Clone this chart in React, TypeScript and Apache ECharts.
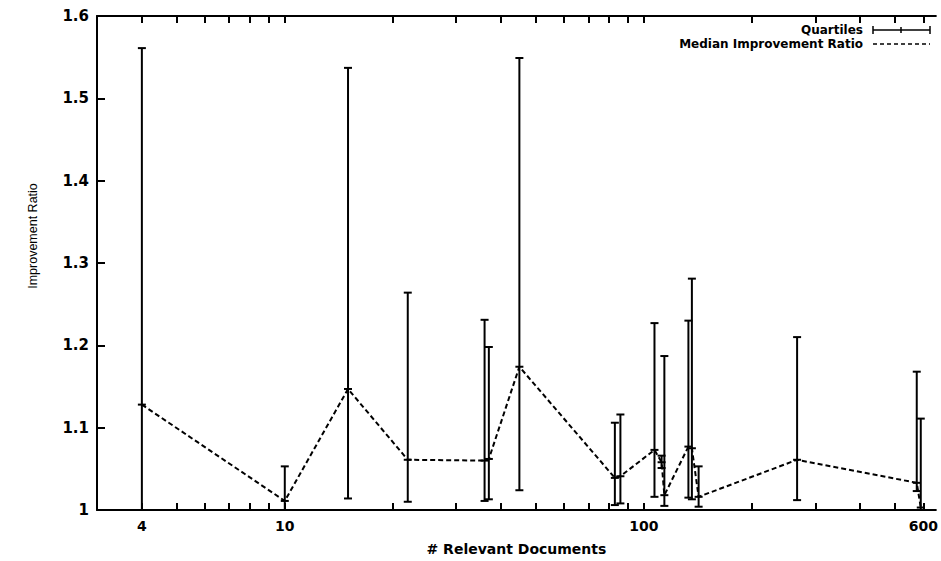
import React, { useEffect, useRef } from "react";
import * as echarts from "echarts";

// # relevant documents (x), quartiles and median improvement ratio (y)
const docs = [4, 10, 15, 22, 36, 37, 45, 83, 86, 107, 112, 114, 133, 136, 142, 267, 575, 590];
const median = [1.128, 1.011, 1.147, 1.061, 1.06, 1.062, 1.174, 1.039, 1.041, 1.073, 1.058, 1.018, 1.077, 1.075, 1.016, 1.061, 1.033, 1.003];
const q1 = [1.0, 1.0, 1.014, 1.01, 1.011, 1.013, 1.024, 1.006, 1.008, 1.016, 1.051, 1.005, 1.015, 1.013, 1.004, 1.012, 1.023, 1.0];
const q3 = [1.561, 1.053, 1.537, 1.264, 1.231, 1.198, 1.549, 1.106, 1.116, 1.227, 1.066, 1.187, 1.23, 1.281, 1.053, 1.21, 1.168, 1.111];

const xTickValues = [4, 5, 6, 7, 8, 9, 10, 20, 30, 40, 50, 60, 70, 80, 90, 100, 200, 300, 400, 500, 600];
const xLabelValues = [4, 10, 100, 600];
const xMin = 3;
const xMax = 650;

const FONT = "DejaVu Sans";

export default function App() {
  const ref = useRef<HTMLDivElement>(null);
  useEffect(() => {
    if (!ref.current) return;
    const chart = echarts.init(ref.current, null, { renderer: "svg" });
    const lg = (v: number) => Math.log10(v);
    const black = "#000";
    const tickCustom = xTickValues.map(lg);
    const labelCustom = xLabelValues.map(lg);
    const errData = docs.map((d, i) => [lg(d), q1[i], q3[i], median[i]]);
    const medData = docs.map((d, i) => [lg(d), median[i]]);
    const lineStyle = { stroke: black, lineWidth: 2 };

    chart.setOption({
      animation: false,
      backgroundColor: "#fff",
      grid: { left: 97, top: 16, width: 843, height: 496 },
      xAxis: [
        {
          type: "value",
          min: lg(xMin),
          max: lg(xMax),
          position: "bottom",
          name: "# Relevant Documents",
          nameLocation: "middle",
          nameGap: 32,
          nameTextStyle: { fontFamily: FONT, fontWeight: "bold", fontSize: 14, color: black },
          axisLine: { show: true, lineStyle: { color: black, width: 2 } },
          axisTick: { show: true, inside: true, length: 7, customValues: tickCustom, lineStyle: { color: black, width: 2 } },
          axisLabel: {
            show: true,
            customValues: labelCustom,
            margin: 9,
            fontFamily: FONT,
            fontWeight: "bold",
            fontSize: 14,
            color: black,
            formatter: (v: number) => String(Math.round(Math.pow(10, v))),
          },
          splitLine: { show: false },
        },
        {
          type: "value",
          min: lg(xMin),
          max: lg(xMax),
          position: "top",
          axisLine: { show: true, lineStyle: { color: black, width: 2 } },
          axisTick: { show: true, inside: true, length: 7, customValues: tickCustom, lineStyle: { color: black, width: 2 } },
          axisLabel: { show: false },
          splitLine: { show: false },
        },
      ],
      yAxis: {
        type: "value",
        min: 1,
        max: 1.6,
        interval: 0.1,
        axisLine: { show: true, lineStyle: { color: black, width: 2 } },
        axisTick: { show: true, inside: true, length: 8, lineStyle: { color: black, width: 2 } },
        axisLabel: { margin: 8, fontFamily: FONT, fontWeight: "bold", fontSize: 15, color: black },
        splitLine: { show: false },
      },
      graphic: [
        {
          type: "text",
          x: 33,
          y: 236,
          rotation: Math.PI / 2,
          style: {
            text: "Improvement Ratio",
            font: "12.5px 'Liberation Sans'",
            fill: black,
            align: "center",
            verticalAlign: "middle",
          },
        },
        {
          type: "text",
          x: 863,
          y: 30,
          style: { text: "Quartiles", font: `bold 12px '${FONT}'`, fill: black, align: "right", verticalAlign: "middle" },
        },
        { type: "line", shape: { x1: 873, y1: 30, x2: 930, y2: 30 }, style: { stroke: black, lineWidth: 1.5 } },
        { type: "line", shape: { x1: 873, y1: 26, x2: 873, y2: 34 }, style: { stroke: black, lineWidth: 1.5 } },
        { type: "line", shape: { x1: 930, y1: 26, x2: 930, y2: 34 }, style: { stroke: black, lineWidth: 1.5 } },
        { type: "line", shape: { x1: 901, y1: 27, x2: 901, y2: 33 }, style: { stroke: black, lineWidth: 1.5 } },
        {
          type: "text",
          x: 863,
          y: 44,
          style: { text: "Median Improvement Ratio", font: `bold 12px '${FONT}'`, fill: black, align: "right", verticalAlign: "middle" },
        },
        { type: "line", shape: { x1: 873, y1: 44, x2: 930, y2: 44 }, style: { stroke: black, lineWidth: 1.5, lineDash: [4, 3] } },
      ],
      series: [
        {
          type: "custom",
          name: "Quartiles",
          xAxisIndex: 0,
          yAxisIndex: 0,
          data: errData,
          encode: { x: 0, y: [1, 2, 3] },
          renderItem: (params: any, api: any) => {
            const x = api.value(0);
            const lo = api.coord([x, api.value(1)]);
            const hi = api.coord([x, api.value(2)]);
            const md = api.coord([x, api.value(3)]);
            const w = 4;
            return {
              type: "group",
              children: [
                { type: "line", shape: { x1: lo[0], y1: lo[1], x2: hi[0], y2: hi[1] }, style: lineStyle },
                { type: "line", shape: { x1: lo[0] - w, y1: lo[1], x2: lo[0] + w, y2: lo[1] }, style: lineStyle },
                { type: "line", shape: { x1: hi[0] - w, y1: hi[1], x2: hi[0] + w, y2: hi[1] }, style: lineStyle },
                { type: "line", shape: { x1: md[0] - w, y1: md[1], x2: md[0] + w, y2: md[1] }, style: lineStyle },
              ],
            };
          },
          z: 2,
        },
        {
          type: "line",
          name: "Median Improvement Ratio",
          xAxisIndex: 0,
          yAxisIndex: 0,
          data: medData,
          symbol: "none",
          lineStyle: { color: black, width: 2, type: [5, 3] },
          z: 3,
        },
      ],
    });
    return () => chart.dispose();
  }, []);
  return <div ref={ref} style={{ position: "absolute", left: 0, top: 0, width: 941, height: 561 }} />;
}
